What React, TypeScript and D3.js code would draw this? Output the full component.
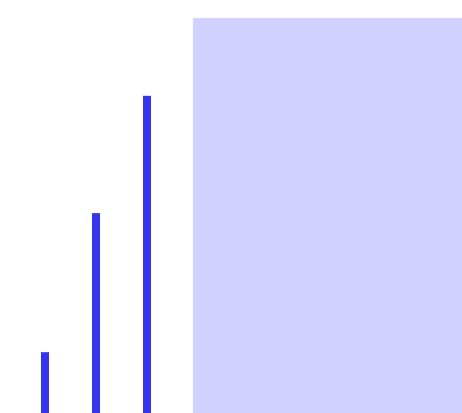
import React from 'react';
import * as d3 from 'd3';

// values
const categories = ['A', 'B', 'C'];
const values = [15.4, 50.6, 80.3];
// shaded region, in category index units and value units
const highlightX = [2.9, 9];
const highlightY = [0, 100];

const width = 462;
const height = 413;

export default function App() {
  const x = d3.scaleLinear().domain([0, 1]).range([45, 96]);
  const y = d3.scaleLinear().domain([0, 100]).range([height, 18]);
  const barWidth = 8;

  return (
    <div style={{ position: 'fixed', left: 0, top: 0 }}>
      <svg width={width} height={height} style={{ display: 'block' }}>
        <rect
          x={x(highlightX[0])}
          y={y(highlightY[1])}
          width={Math.min(x(highlightX[1]), width) - x(highlightX[0])}
          height={y(highlightY[0]) - y(highlightY[1])}
          fill="#d1d1ff"
        />
        {categories.map((c, i) => (
          <rect
            key={c}
            x={x(i) - barWidth / 2}
            y={y(values[i])}
            width={barWidth}
            height={y(0) - y(values[i])}
            fill="#3535ee"
          />
        ))}
      </svg>
    </div>
  );
}
